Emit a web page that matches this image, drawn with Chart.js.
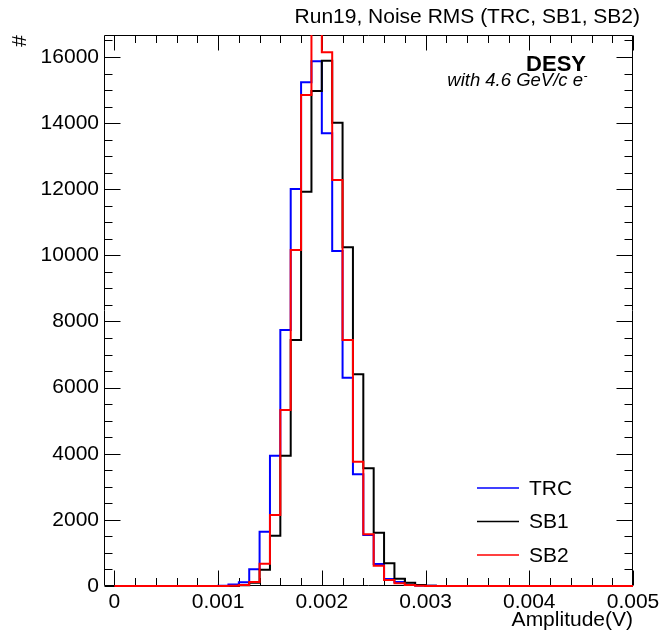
<!DOCTYPE html>
<html>
<head>
<meta charset="utf-8">
<script src="https://cdn.jsdelivr.net/npm/chart.js@4/dist/chart.umd.min.js"></script>
<style>
html,body{margin:0;padding:0;background:#ffffff;}
canvas{display:block;}
</style>
</head>
<body>
<canvas id="c" width="664" height="633"></canvas>
<script>
// ---- data (counts per 0.0001 V bin, starting at 0 V) ----
const binLow = 0;
const binWidth = 0.0001;
const seriesNames = ['TRC', 'SB1', 'SB2'];
const trcCounts = [
  0,0,0,0,0,0,0,0,0,0,
  10,45,110,510,1643,3942,7743,12008,15234,15870,
  13691,10132,6301,3377,1540,665,212,120,40,15,
  5,0,0,0,0,0,0,0,0,0,
  0,0,0,0,0,0,0,0,0,0
];
const sb1Counts = [
  0,0,0,0,0,0,0,0,0,0,
  0,0,25,100,490,1522,3942,7440,11927,14972,
  15889,14014,10243,6402,3559,1613,685,222,100,30,
  10,0,0,0,0,0,0,0,0,0,
  0,0,0,0,0,0,0,0,0,0
];
const sb2Counts = [
  0,0,0,0,0,0,0,0,0,0,
  0,10,30,120,670,2147,5323,10163,14851,17600,
  16141,12280,7440,3761,1563,615,181,80,30,10,
  0,0,0,0,0,0,0,0,0,0,
  0,0,0,0,0,0,0,0,0,0
];
const xTickValues = [0, 0.001, 0.002, 0.003, 0.004, 0.005];
const xTickLabels = ['0', '0.001', '0.002', '0.003', '0.004', '0.005'];
const yTickValues = [0, 2000, 4000, 6000, 8000, 10000, 12000, 14000, 16000];
const yTickLabels = ['0', '2000', '4000', '6000', '8000', '10000', '12000', '14000', '16000'];
const xMin = -0.0001, xMax = 0.005;
const yMin = 0, yMax = 16665;
const xMinorStep = 0.0002, yMinorStep = 500;
const titleText = 'Run19, Noise RMS (TRC, SB1, SB2)';
const xTitle = 'Amplitude(V)';
const yTitle = '#';
const labText1 = 'DESY';
const labText2 = 'with 4.6 GeV/c e';

const FONT = "'Liberation Sans', Arimo, Arial, Helvetica, sans-serif";
const colors = ['#0000ff', '#000000', '#ff0000'];

function toSteps(counts) {
  const pts = counts.map((v, i) => ({x: binLow + i * binWidth, y: v}));
  pts.push({x: binLow + counts.length * binWidth, y: counts[counts.length - 1]});
  return pts;
}

const allCounts = [trcCounts, sb1Counts, sb2Counts];
const datasets = allCounts.map((c, i) => ({
  label: seriesNames[i],
  data: toSteps(c),
  borderColor: colors[i],
  backgroundColor: colors[i],
  borderWidth: 2,
  stepped: 'before',
  pointRadius: 0,
  fill: false,
  tension: 0,
  order: 2 - i,
  clip: {left: 2, top: 0, right: 2, bottom: 2}
}));

const decor = {
  id: 'decor',
  beforeDatasetsDraw(chart) {
    const {ctx, chartArea: a, scales} = chart;
    const x = scales.x, y = scales.y;
    const L = Math.round(a.left) + 0.5, R = Math.round(a.right) - 0.5;
    const T = Math.round(a.top) + 0.5, B = Math.round(a.bottom) - 0.5;
    ctx.save();
    ctx.strokeStyle = '#000';
    ctx.lineWidth = 1;
    ctx.beginPath();
    ctx.rect(L, T, R - L, B - T);
    ctx.stroke();
    ctx.beginPath();
    // x ticks (bottom & top, inward)
    for (let v = 0; v <= xMax + 1e-9; v += xMinorStep) {
      const px = Math.round(x.getPixelForValue(v)) + 0.5;
      const major = xTickValues.some(t => Math.abs(t - v) < 1e-9);
      const len = major ? 15 : 7.5;
      ctx.moveTo(px, B); ctx.lineTo(px, B - len);
      ctx.moveTo(px, T); ctx.lineTo(px, T + len);
    }
    // y ticks (left & right, inward)
    for (let v = 0; v <= yMax; v += yMinorStep) {
      const py = Math.round(y.getPixelForValue(v)) + 0.5;
      const major = yTickValues.includes(v);
      const len = major ? 16 : 8;
      ctx.moveTo(L, py); ctx.lineTo(L + len, py);
      ctx.moveTo(R, py); ctx.lineTo(R - len, py);
    }
    ctx.stroke();
    ctx.restore();
  },
  afterDraw(chart) {
    const {ctx} = chart;
    ctx.save();
    ctx.fillStyle = '#000';
    ctx.textBaseline = 'alphabetic';
    // DESY label
    ctx.textAlign = 'right';
    ctx.font = 'bold 22px ' + FONT;
    ctx.fillText(labText1, 586, 71);
    ctx.font = 'italic 18.5px ' + FONT;
    ctx.fillText(labText2, 583, 86);
    ctx.font = 'italic 12px ' + FONT;
    ctx.textAlign = 'left';
    ctx.fillText('-', 583.5, 80);
    // legend
    const legX1 = 477, legX2 = 519, legTextX = 529;
    const legTop = 488, legGap = 33.5;
    ctx.font = '21px ' + FONT;
    ctx.textBaseline = 'middle';
    chart.data.datasets.forEach((d, i) => {
      const ly = legTop + i * legGap;
      ctx.strokeStyle = d.borderColor;
      ctx.lineWidth = 1.5;
      ctx.beginPath();
      ctx.moveTo(legX1, ly); ctx.lineTo(legX2, ly);
      ctx.stroke();
      ctx.fillStyle = '#000';
      ctx.fillText(d.label, legTextX, ly + 1);
    });
    ctx.restore();
  }
};

new Chart(document.getElementById('c'), {
  type: 'line',
  data: {datasets},
  plugins: [decor],
  options: {
    responsive: false,
    animation: false,
    devicePixelRatio: 1,
    layout: {padding: {left: 0, right: 24, top: 0, bottom: 0}},
    plugins: {
      legend: {display: false},
      tooltip: {enabled: false},
      title: {
        display: true, text: titleText, align: 'end', color: '#000',
        font: {family: FONT, size: 21, weight: 'normal'},
        padding: {top: 5, bottom: 4.8}
      }
    },
    scales: {
      x: {
        type: 'linear', min: xMin, max: xMax,
        afterBuildTicks: s => { s.ticks = xTickValues.map(v => ({value: v})); },
        afterFit: s => { s.height = 47; },
        grid: {display: false, drawTicks: false},
        border: {display: false},
        ticks: {
          autoSkip: false, maxRotation: 0, minRotation: 0, padding: 4, color: '#000',
          font: {family: FONT, size: 21},
          callback: (v, i) => xTickLabels[i]
        },
        title: {
          display: true, text: xTitle, align: 'end', color: '#000',
          font: {family: FONT, size: 21}, padding: {top: 0, bottom: 0}
        }
      },
      y: {
        type: 'linear', position: 'left', min: yMin, max: yMax,
        afterBuildTicks: s => { s.ticks = yTickValues.map(v => ({value: v})); },
        afterFit: s => { s.width = 104; },
        grid: {display: false, drawTicks: false},
        border: {display: false},
        ticks: {
          autoSkip: false, padding: 5, color: '#000',
          font: {family: FONT, size: 21},
          callback: (v, i) => yTickLabels[i]
        },
        title: {
          display: true, text: yTitle, align: 'end', color: '#000',
          font: {family: FONT, size: 21}, padding: {top: 8, bottom: 0}
        }
      },
      y2: {
        type: 'linear', position: 'right', display: true,
        grid: {display: false, drawTicks: false},
        border: {display: false},
        ticks: {display: false},
        afterFit: s => { s.width = 7; }
      }
    }
  }
});
</script>
</body>
</html>
